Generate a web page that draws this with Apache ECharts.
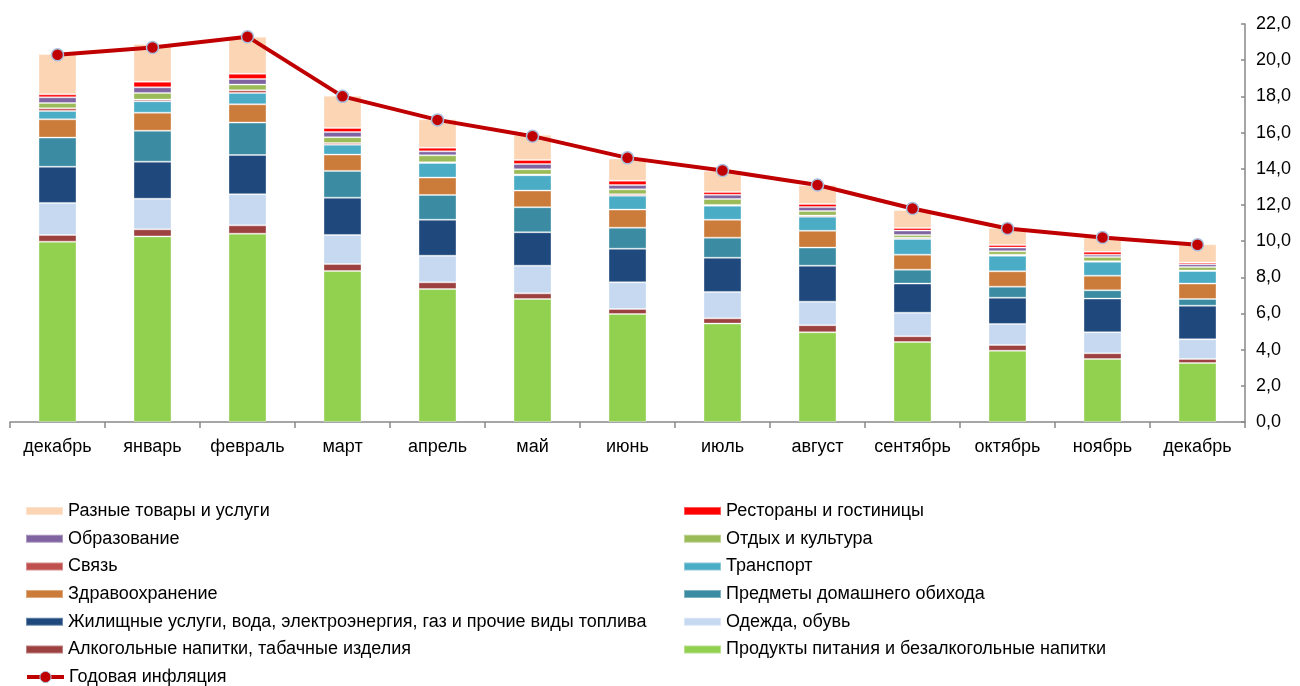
<!DOCTYPE html>
<html>
<head>
<meta charset="utf-8">
<script src="https://cdn.jsdelivr.net/npm/echarts@6/dist/echarts.min.js"></script>
<style>
  html, body { margin: 0; padding: 0; background: #fff; }
  #chart { width: 1300px; height: 686px; }
</style>
</head>
<body>
<div id="chart"></div>
<script>
// months
var categories = ['декабрь', 'январь', 'февраль', 'март', 'апрель', 'май', 'июнь', 'июль', 'август', 'сентябрь', 'октябрь', 'ноябрь', 'декабрь']

// contributions, bottom to top of the stack
var food = [9.97, 10.26, 10.41, 8.35, 7.35, 6.80, 5.97, 5.44, 4.96, 4.42, 3.94, 3.48, 3.26]
var alcohol = [0.37, 0.39, 0.46, 0.38, 0.37, 0.31, 0.28, 0.29, 0.39, 0.32, 0.32, 0.32, 0.22]
var clothes = [1.77, 1.69, 1.72, 1.61, 1.47, 1.53, 1.47, 1.46, 1.30, 1.30, 1.16, 1.16, 1.09]
var housing = [2.00, 2.05, 2.17, 2.06, 1.99, 1.85, 1.86, 1.89, 1.99, 1.61, 1.45, 1.86, 1.86]
var household = [1.61, 1.71, 1.79, 1.48, 1.37, 1.38, 1.16, 1.11, 1.00, 0.77, 0.61, 0.46, 0.37]
var health = [1.01, 1.00, 1.01, 0.90, 0.96, 0.92, 1.00, 0.99, 0.93, 0.83, 0.85, 0.81, 0.85]
var transport = [0.46, 0.63, 0.63, 0.55, 0.81, 0.85, 0.77, 0.78, 0.78, 0.87, 0.86, 0.77, 0.70]
var communication = [0.15, 0.09, 0.15, 0.09, 0.04, 0.04, 0.08, 0.04, 0.06, 0.07, 0.06, 0.03, 0.02]
var recreation = [0.29, 0.37, 0.31, 0.32, 0.38, 0.29, 0.27, 0.33, 0.25, 0.15, 0.19, 0.23, 0.20]
var education = [0.32, 0.31, 0.31, 0.29, 0.22, 0.29, 0.24, 0.23, 0.22, 0.24, 0.20, 0.13, 0.15]
var restaurants = [0.16, 0.31, 0.29, 0.22, 0.20, 0.22, 0.24, 0.15, 0.17, 0.14, 0.14, 0.16, 0.09]
var misc = [2.23, 2.09, 2.05, 1.79, 1.57, 1.40, 1.22, 1.18, 1.05, 1.00, 0.96, 0.80, 1.01]

// annual inflation line
var inflation = [20.3, 20.7, 21.3, 18.0, 16.7, 15.8, 14.6, 13.9, 13.1, 11.8, 10.7, 10.2, 9.8]

var yTicks = { min: 0, max: 22, interval: 2 }

var font = "'Liberation Sans', Arial, sans-serif"

var stackDefs = [
    { name: 'Продукты питания и безалкогольные напитки', data: food, color: '#92D050' },
    { name: 'Алкогольные напитки, табачные изделия', data: alcohol, color: '#9D4040' },
    { name: 'Одежда, обувь', data: clothes, color: '#C6D9F1' },
    { name: 'Жилищные услуги, вода, электроэнергия, газ и прочие виды топлива', data: housing, color: '#1F497D' },
    { name: 'Предметы домашнего обихода', data: household, color: '#3B8BA2' },
    { name: 'Здравоохранение', data: health, color: '#CC7C3A' },
    { name: 'Транспорт', data: transport, color: '#4BACC6' },
    { name: 'Связь', data: communication, color: '#C0504D' },
    { name: 'Отдых и культура', data: recreation, color: '#9BBB59' },
    { name: 'Образование', data: education, color: '#8064A2' },
    { name: 'Рестораны и гостиницы', data: restaurants, color: '#FF0000' },
    { name: 'Разные товары и услуги', data: misc, color: '#FCD5B5' }
]

var lineName = 'Годовая инфляция'

var series = []
stackDefs.forEach(function (item) {
    series.push({
        type: 'bar',
        name: item.name,
        stack: 'total',
        data: item.data,
        barWidth: 38,
        itemStyle: {
            color: item.color,
            borderColor: 'rgba(255,255,255,0.35)',
            borderWidth: 1
        }
    })
})
series.push({
    type: 'line',
    name: lineName,
    data: inflation,
    symbol: 'circle',
    symbolSize: 12,
    z: 5,
    lineStyle: { color: '#C00000', width: 4 },
    itemStyle: { color: '#C00000', borderColor: '#A9BFDD', borderWidth: 1.5 }
})

var legendText = { color: '#000', fontSize: 18, fontFamily: font, lineHeight: 18 }

function rectItem(name) {
    return { name: name, icon: 'rect' }
}

function legendCol(left, top, items, itemHeight) {
    return {
        orient: 'vertical',
        left: left,
        top: top,
        padding: 0,
        itemWidth: 37,
        itemHeight: itemHeight || 8,
        itemGap: 9.7,
        textStyle: legendText,
        data: items
    }
}

var chart = echarts.init(document.getElementById('chart'))
chart.setOption({
    animation: false,
    textStyle: { fontFamily: font },
    grid: { left: 10, right: 55, top: 24, bottom: 264, containLabel: false },
    legend: [
        legendCol(25, 502, [
            rectItem('Разные товары и услуги'),
            rectItem('Образование'),
            rectItem('Связь'),
            rectItem('Здравоохранение'),
            rectItem('Жилищные услуги, вода, электроэнергия, газ и прочие виды топлива'),
            rectItem('Алкогольные напитки, табачные изделия')
        ]),
        legendCol(683, 502, [
            rectItem('Рестораны и гостиницы'),
            rectItem('Отдых и культура'),
            rectItem('Транспорт'),
            rectItem('Предметы домашнего обихода'),
            rectItem('Одежда, обувь'),
            rectItem('Продукты питания и безалкогольные напитки')
        ]),
        legendCol(25, 668, [{
            name: lineName,
            lineStyle: { width: 4, color: '#C00000' },
            itemStyle: { color: '#C00000', borderColor: '#A9BFDD', borderWidth: 1 }
        }], 14)
    ],
    xAxis: {
        type: 'category',
        data: categories,
        axisLine: { show: true, lineStyle: { color: '#898989', width: 1.5 } },
        axisTick: { show: true, length: 6, lineStyle: { color: '#898989', width: 1.5 } },
        axisLabel: { color: '#000', fontSize: 18, margin: 16, interval: 0, fontFamily: font }
    },
    yAxis: {
        type: 'value',
        position: 'right',
        min: yTicks.min,
        max: yTicks.max,
        interval: yTicks.interval,
        axisLine: { show: true, lineStyle: { color: '#898989', width: 1.5 } },
        axisTick: { show: true, inside: true, length: 4, lineStyle: { color: '#898989', width: 1.5 } },
        splitLine: { show: false },
        axisLabel: {
            color: '#000',
            fontSize: 18,
            margin: 11,
            fontFamily: font,
            formatter: function (v) { return v.toFixed(1).replace('.', ',') }
        }
    },
    series: series
})
</script>
</body>
</html>
